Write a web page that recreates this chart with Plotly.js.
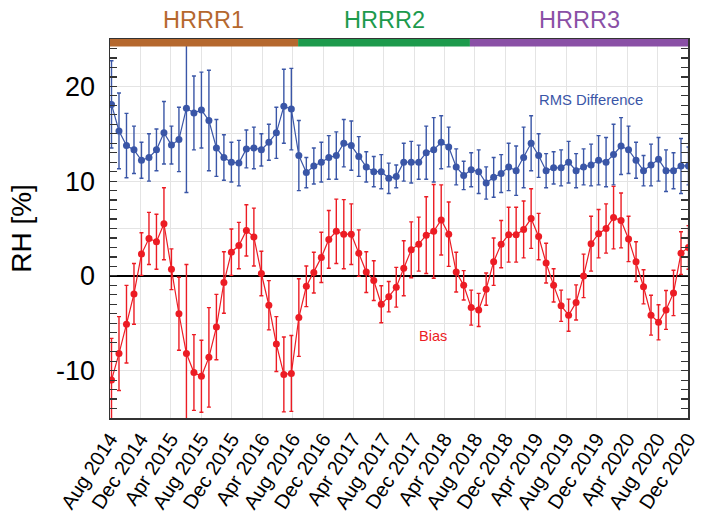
<!DOCTYPE html>
<html>
<head>
<meta charset="utf-8">
<script src="https://cdn.plot.ly/plotly-3.0.1.min.js"></script>
<style>html,body{margin:0;padding:0;background:#fff;}#chart{width:702px;height:515px;}</style>
</head>
<body>
<div id="chart"></div>
<script>
// RMS difference (blue) and bias (red), one value per 30-day period starting early Aug 2014
var rmsValues = [18.1,15.3,13.75,13.3,12.2,12.5,13.3,15.1,13.8,14.4,
  17.7,17.2,17.5,16.4,13.5,12.5,12.0,11.9,13.4,13.5,
  13.3,14.1,15.1,17.9,17.6,12.7,10.9,11.6,12.0,12.5,
  12.7,14.0,13.75,12.6,11.5,11.0,11.0,10.3,10.5,12.0,
  12.0,12.0,13.0,13.3,14.1,13.6,11.5,10.6,11.2,11.0,
  9.8,10.4,10.8,11.5,11.1,12.5,14.0,12.7,11.1,11.4,
  11.4,12.0,11.1,11.5,11.7,12.2,12.0,12.8,13.7,13.3,
  12.2,11.1,11.7,12.3,11.1,11.1,11.6,11.6];
var rmsErrors = [4.6,4.0,3.4,2.5,1.9,2.5,2.2,3.3,2.0,3.4,
  8.9,3.9,4.0,5.3,3.0,2.4,2.1,2.4,2.0,2.2,
  1.7,1.9,2.7,3.9,4.3,3.7,1.6,1.9,2.1,2.3,
  2.5,2.5,2.6,2.1,1.6,1.6,1.8,1.6,1.2,2.0,
  2.2,1.8,2.8,3.4,2.8,2.1,1.9,1.5,1.8,2.3,
  1.7,2.1,2.0,2.5,2.6,3.2,2.9,2.3,1.8,1.7,
  1.9,2.2,1.8,1.9,2.2,2.6,2.6,3.2,3.0,2.5,
  1.9,1.6,2.2,2.3,2.2,1.9,2.9,2.0];
var biasValues = [-11.0,-8.2,-5.1,-1.9,2.3,3.95,3.6,5.5,0.7,-4.0,
  -8.2,-10.2,-10.6,-8.6,-5.4,-0.7,2.5,3.2,4.8,4.1,
  0.25,-3.1,-7.2,-10.4,-10.3,-4.4,-1.1,0.35,1.95,3.85,
  4.7,4.4,4.4,2.4,0.4,-0.5,-3.0,-2.2,-1.2,0.8,
  2.75,3.35,4.3,4.7,5.9,4.4,0.4,-1.0,-3.35,-3.6,
  -1.4,1.5,3.35,4.35,4.35,4.9,6.05,4.15,1.35,-1.0,
  -3.15,-4.15,-2.8,0.0,3.4,4.45,5.0,6.15,5.85,3.9,
  1.5,-1.15,-4.15,-4.9,-3.6,-1.8,2.4,3.0];
var biasErrors = [4.4,3.9,4.1,3.2,2.25,2.75,2.9,3.8,2.15,3.85,
  9.4,4.0,3.8,5.25,3.45,3.25,2.45,2.45,2.7,3.05,
  2.35,2.6,2.9,3.95,4.0,4.1,2.15,2.15,2.65,3.05,
  3.4,3.65,3.2,2.45,2.15,2.1,1.95,1.6,2.1,2.9,
  2.95,2.85,4.05,4.95,3.7,3.4,2.1,1.55,1.85,1.75,
  1.7,2.5,2.5,2.9,2.9,3.0,3.15,2.45,2.1,1.75,
  1.65,1.7,1.85,2.3,2.9,2.55,2.6,3.3,2.9,2.4,
  2.1,1.8,2.1,1.85,2.05,2.4,2.25,2.3];

var tickVals = ['2014-08-01','2014-12-01','2015-04-01','2015-08-01','2015-12-01',
  '2016-04-01','2016-08-01','2016-12-01','2017-04-01','2017-08-01','2017-12-01',
  '2018-04-01','2018-08-01','2018-12-01','2019-04-01','2019-08-01','2019-12-01',
  '2020-04-01','2020-08-01','2020-12-01'];
var tickLabels = ['Aug 2014','Dec 2014','Apr 2015','Aug 2015','Dec 2015',
  'Apr 2016','Aug 2016','Dec 2016','Apr 2017','Aug 2017','Dec 2017',
  'Apr 2018','Aug 2018','Dec 2018','Apr 2019','Aug 2019','Dec 2019',
  'Apr 2020','Aug 2020','Dec 2020'];

var versionNames = ['HRRR1','HRRR2','HRRR3'];
var versionStarts = ['2014-07-31','2016-08-23','2018-07-12'];
var versionEnds = ['2016-08-23','2018-07-12','2020-12-02'];
var versionColors = ['#b5682e','#1d9a4c','#8a50a6'];

// sample dates: one point every 30 days
var startMs = Date.UTC(2014,7,7);
var dates = rmsValues.map(function(_, i){
  return new Date(startMs + i*30*86400000).toISOString().slice(0,10);
});

var blue = '#3a56a7', red = '#ec1c24';
var font = '"Liberation Sans", Arial, Helvetica, sans-serif';

var traces = [
  {x: dates, y: rmsValues, type:'scatter', mode:'lines+markers',
   line:{color:blue, width:1.2}, marker:{color:blue, size:7},
   error_y:{type:'data', array:rmsErrors, visible:true, color:blue, thickness:1.4, width:2},
   hoverinfo:'skip', showlegend:false},
  {x: dates, y: biasValues, type:'scatter', mode:'lines+markers',
   line:{color:red, width:1.2}, marker:{color:red, size:7},
   error_y:{type:'data', array:biasErrors, visible:true, color:red, thickness:1.4, width:2},
   hoverinfo:'skip', showlegend:false}
];

var shapes = [], annotations = [];
for (var k=0;k<versionNames.length;k++){
  shapes.push({type:'rect', xref:'x', yref:'y', x0:versionStarts[k], x1:versionEnds[k],
    y0:24.2, y1:25, fillcolor:versionColors[k], line:{width:0}, layer:'above'});
  var mid = (new Date(versionStarts[k]).getTime() + new Date(versionEnds[k]).getTime())/2;
  annotations.push({xref:'x', yref:'paper', x:new Date(mid).toISOString().slice(0,10), y:1.05,
    text:versionNames[k], showarrow:false, xanchor:'center', yanchor:'middle',
    font:{family:font, size:23.5, color:versionColors[k]}});
}
annotations.push({xref:'paper', yref:'y', x:0.832, y:18.55, text:'RMS Difference',
  showarrow:false, xanchor:'center', yanchor:'middle', font:{family:font, size:14.8, color:blue}});
annotations.push({xref:'paper', yref:'y', x:0.559, y:-6.3, text:'Bias',
  showarrow:false, xanchor:'center', yanchor:'middle', font:{family:font, size:14.5, color:red}});

var layout = {
  width:702, height:515,
  margin:{l:110, r:14, t:39, b:97},
  paper_bgcolor:'#fff', plot_bgcolor:'#fff',
  font:{family:font, color:'#000'},
  xaxis:{type:'date', range:['2014-08-01','2020-12-01'],
    tickmode:'array', tickvals:tickVals, ticktext:tickLabels, tickangle:-57,
    tickfont:{family:font, size:20, color:'#000'},
    showgrid:true, gridcolor:'#e4e4e4', gridwidth:1,
    ticks:'', showline:true, linecolor:'#333', linewidth:1.5, mirror:true,
    zeroline:false, fixedrange:true},
  yaxis:{range:[-15,25],
    tickmode:'array', tickvals:[-15,-10,-5,0,5,10,15,20,25],
    ticktext:['','-10','','0','','10','','20',''],
    tickfont:{family:font, size:27, color:'#000'}, ticklabelstandoff:8,
    ticks:'inside', ticklen:7, tickcolor:'#333', tickwidth:1.2,
    minor:{dtick:1, ticks:'inside', ticklen:7, tickcolor:'#333', tickwidth:1.2, showgrid:false},
    showgrid:true, gridcolor:'#e4e4e4', gridwidth:1,
    showline:true, linecolor:'#333', linewidth:1.5, mirror:'ticks',
    zeroline:true, zerolinecolor:'#000', zerolinewidth:1.3,
    title:{text:'RH [%]', font:{family:font, size:28, color:'#000'}, standoff:16},
    fixedrange:true},
  shapes:shapes,
  annotations:annotations
};

Plotly.newPlot('chart', traces, layout, {displayModeBar:false, staticPlot:true});
</script>
</body>
</html>
